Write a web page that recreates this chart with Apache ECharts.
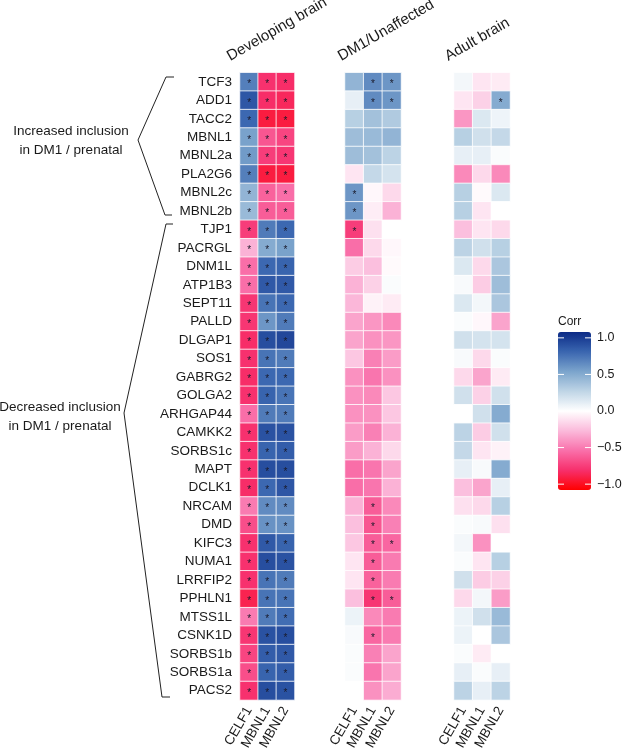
<!DOCTYPE html>
<html>
<head>
<meta charset="utf-8">
<script src="https://cdn.jsdelivr.net/npm/echarts@6/dist/echarts.min.js"></script>
<style>html,body{margin:0;padding:0;background:#fff}#c{width:624px;height:753px}</style>
</head>
<body>
<div id="c"></div>
<script>
// ---------------- DATA ----------------
const genes = ['TCF3','ADD1','TACC2','MBNL1','MBNL2a','PLA2G6','MBNL2c','MBNL2b','TJP1','PACRGL','DNM1L','ATP1B3','SEPT11','PALLD','DLGAP1','SOS1','GABRG2','GOLGA2','ARHGAP44','CAMKK2','SORBS1c','MAPT','DCLK1','NRCAM','DMD','KIFC3','NUMA1','LRRFIP2','PPHLN1','MTSS1L','CSNK1D','SORBS1b','SORBS1a','PACS2'];
const factors = ['CELF1','MBNL1','MBNL2'];
const panelTitles = ['Developing brain','DM1/Unaffected','Adult brain'];

const devCELF1 = [0.70,0.88,0.80,0.55,0.58,0.70,0.45,0.42,-0.75,-0.30,-0.55,-0.55,-0.78,-0.78,-0.82,-0.80,-0.82,-0.80,-0.55,-0.80,-0.80,-0.80,-0.82,-0.50,-0.68,-0.80,-0.80,-0.80,-0.88,-0.50,-0.78,-0.72,-0.68,-0.80];
const devMBNL1 = [-0.80,-0.82,-0.92,-0.65,-0.75,-0.92,-0.60,-0.62,0.72,0.50,0.80,0.87,0.75,0.60,0.92,0.75,0.80,0.82,0.72,0.90,0.82,0.92,0.80,0.65,0.62,0.87,0.92,0.75,0.75,0.72,0.90,0.85,0.82,0.92];
const devMBNL2 = [-0.82,-0.85,-0.92,-0.72,-0.78,-0.92,-0.55,-0.62,0.80,0.55,0.82,0.87,0.80,0.72,0.95,0.72,0.80,0.75,0.72,0.90,0.85,0.92,0.88,0.65,0.62,0.82,0.90,0.72,0.75,0.78,0.92,0.87,0.85,0.90];

const dmCELF1 = [0.45,0.10,0.30,0.40,0.40,-0.10,0.60,0.60,-0.75,-0.55,-0.20,-0.30,-0.28,-0.35,-0.35,-0.22,-0.42,-0.42,-0.42,-0.38,-0.38,-0.55,-0.55,-0.30,-0.25,-0.22,-0.10,-0.10,-0.25,0.08,0.03,0.02,0.02,0.00];
const dmMBNL1 = [0.65,0.65,0.38,0.42,0.38,0.25,-0.03,-0.07,-0.12,-0.15,-0.25,-0.18,-0.05,-0.40,-0.42,-0.48,-0.52,-0.45,-0.42,-0.48,-0.30,-0.52,-0.52,-0.62,-0.65,-0.62,-0.62,-0.60,-0.78,-0.45,-0.58,-0.48,-0.52,-0.42];
const dmMBNL2 = [0.60,0.60,0.33,0.45,0.28,0.18,-0.15,-0.30,0.00,-0.03,-0.02,0.02,-0.08,-0.45,-0.40,-0.38,-0.42,-0.22,-0.22,-0.30,-0.15,-0.35,-0.30,-0.45,-0.48,-0.58,-0.50,-0.50,-0.62,-0.50,-0.50,-0.35,-0.35,-0.32];

const adultCELF1 = [0.05,-0.10,-0.40,0.30,0.10,-0.45,0.30,0.30,-0.25,0.28,0.15,0.03,0.15,0.02,0.20,0.03,-0.15,0.20,0.00,0.28,0.25,0.10,-0.25,-0.12,0.02,0.05,0.02,0.20,-0.15,0.08,0.08,0.02,0.10,0.28];
const adultMBNL1 = [-0.10,-0.18,0.15,0.20,0.10,-0.15,-0.02,-0.10,-0.10,0.20,-0.15,-0.20,0.05,-0.03,0.18,-0.15,-0.35,-0.18,0.20,-0.20,-0.10,0.03,-0.35,-0.15,0.03,-0.42,-0.10,-0.20,0.05,0.20,0.00,-0.08,0.02,0.10];
const adultMBNL2 = [-0.08,0.50,0.07,0.25,0.02,-0.45,0.15,0.00,-0.15,0.30,0.35,0.40,0.35,-0.35,0.18,0.02,-0.08,0.20,0.50,0.20,-0.05,0.50,0.10,0.30,-0.12,0.00,0.30,-0.18,-0.38,0.42,0.35,0.00,0.10,0.28];

// significant cells (asterisks)
const devSigCELF1 = genes.slice();
const devSigMBNL1 = genes.slice();
const devSigMBNL2 = genes.slice();
const dmSigCELF1 = ['MBNL2c','MBNL2b','TJP1'];
const dmSigMBNL1 = ['TCF3','ADD1','NRCAM','DMD','KIFC3','NUMA1','LRRFIP2','PPHLN1','CSNK1D'];
const dmSigMBNL2 = ['TCF3','ADD1','KIFC3','PPHLN1'];
const adultSigCELF1 = [];
const adultSigMBNL1 = [];
const adultSigMBNL2 = ['ADD1'];

const legendTicks = [1.0, 0.5, 0.0, -0.5, -1.0];

// ---------------- BUILD ----------------
const FONT = '"Liberation Sans", Arial, Helvetica, sans-serif';
const panels = [
  {vals:[devCELF1,devMBNL1,devMBNL2], sig:[devSigCELF1,devSigMBNL1,devSigMBNL2]},
  {vals:[dmCELF1,dmMBNL1,dmMBNL2], sig:[dmSigCELF1,dmSigMBNL1,dmSigMBNL2]},
  {vals:[adultCELF1,adultMBNL1,adultMBNL2], sig:[adultSigCELF1,adultSigMBNL1,adultSigMBNL2]}
];
const gridLeft = [240, 345, 454];
const gridW = [54.5, 56, 56];
const gridTop = 72.7, gridH = 629;

const grids = [], xAxes = [], yAxes = [], series = [];
panels.forEach((p, pi) => {
  grids.push({left: gridLeft[pi], top: gridTop, width: gridW[pi], height: gridH, containLabel: false});
  xAxes.push({
    type: 'category', gridIndex: pi, data: factors, position: 'bottom',
    axisLine: {show: false}, axisTick: {show: false}, splitLine: {show: false},
    axisLabel: {rotate: 60, interval: 0, fontSize: 13.5, color: '#1a1a1a', margin: 8, fontFamily: FONT}
  });
  yAxes.push({
    type: 'category', gridIndex: pi, data: genes, inverse: true,
    axisLine: {show: false}, axisTick: {show: false}, splitLine: {show: false},
    axisLabel: {show: pi === 0, interval: 0, fontSize: 13.5, color: '#1a1a1a', margin: 8, fontFamily: FONT}
  });
  const data = [];
  p.vals.forEach((col, ci) => {
    col.forEach((v, gi) => {
      data.push([ci, gi, v, p.sig[ci].indexOf(genes[gi]) >= 0 ? 1 : 0]);
    });
  });
  series.push({
    type: 'heatmap', xAxisIndex: pi, yAxisIndex: pi, data: data,
    itemStyle: {borderColor: '#ffffff', borderWidth: 0.8},
    label: {
      show: true, fontSize: 10, color: '#1a1a2a', offset: [0, 2.5], fontFamily: FONT,
      formatter: (prm) => prm.data[3] ? '*' : ''
    },
    emphasis: {disabled: true}
  });
});

// legend geometry
const vmMin = -1.08, vmMax = 1.08;
const barX = 558, barTop = 332, barW = 33, barH = 158;
const yOf = v => barTop + (vmMax - v) / (vmMax - vmMin) * barH;

const graphics = [];
panelTitles.forEach((t, i) => {
  const px = [232, 343, 450][i];
  graphics.push({type: 'text', x: px, y: 64, rotation: Math.PI / 6,
    style: {text: t, font: '15px ' + FONT, fill: '#1a1a1a', textAlign: 'left', textVerticalAlign: 'bottom'}});
});
// group labels
[['Increased inclusion', 131], ['in DM1 / prenatal', 150], ['Decreased inclusion', 407], ['in DM1 / prenatal', 426]].forEach(([t, y], i) => {
  graphics.push({type: 'text', x: i < 2 ? 71 : 60, y: y,
    style: {text: t, font: '13.5px ' + FONT, fill: '#1a1a1a', textAlign: 'center', textVerticalAlign: 'middle'}});
});
// braces
graphics.push({type: 'polyline', shape: {points: [[174, 77], [166, 77], [138, 140], [165, 215], [172, 215]]},
  style: {stroke: '#222', lineWidth: 1, fill: null}});
graphics.push({type: 'polyline', shape: {points: [[173, 224], [166, 224], [124, 413], [162, 697], [170, 697]]},
  style: {stroke: '#222', lineWidth: 1, fill: null}});
// legend title, labels, ticks
graphics.push({type: 'text', x: barX, y: 322,
  style: {text: 'Corr', font: '12px ' + FONT, fill: '#1a1a1a', textAlign: 'left', textVerticalAlign: 'middle'}});
legendTicks.forEach(v => {
  const y = yOf(v);
  const lbl = (v < 0 ? '\u2212' : '') + Math.abs(v).toFixed(1);
  graphics.push({type: 'text', x: barX + barW + 6, y: y,
    style: {text: lbl, font: '12.5px ' + FONT, fill: '#1a1a1a', textAlign: 'left', textVerticalAlign: 'middle'}});
  graphics.push({type: 'line', shape: {x1: barX, y1: y, x2: barX + 6, y2: y}, style: {stroke: '#fff', lineWidth: 1}, z: 100});
  graphics.push({type: 'line', shape: {x1: barX + barW - 6, y1: y, x2: barX + barW, y2: y}, style: {stroke: '#fff', lineWidth: 1}, z: 100});
});

const option = {
  animation: false,
  backgroundColor: '#ffffff',
  grid: grids, xAxis: xAxes, yAxis: yAxes, series: series,
  visualMap: {
    type: 'continuous', min: vmMin, max: vmMax, dimension: 2, seriesIndex: [0, 1, 2],
    left: barX - 5, top: barTop - 5, padding: 5, itemWidth: barW, itemHeight: barH,
    calculable: false, hoverLink: false, text: null, showLabel: false,
    inRange: {color: ['#ff0000', '#f72f6c', '#f970aa', '#fbbadb', '#ffffff', '#bfd5e6', '#7ba4cc', '#3a66b0', '#0b2a86']}
  },
  graphic: {elements: graphics}
};
const chart = echarts.init(document.getElementById('c'), null, {renderer: 'canvas'});
chart.setOption(option);
</script>
</body>
</html>
